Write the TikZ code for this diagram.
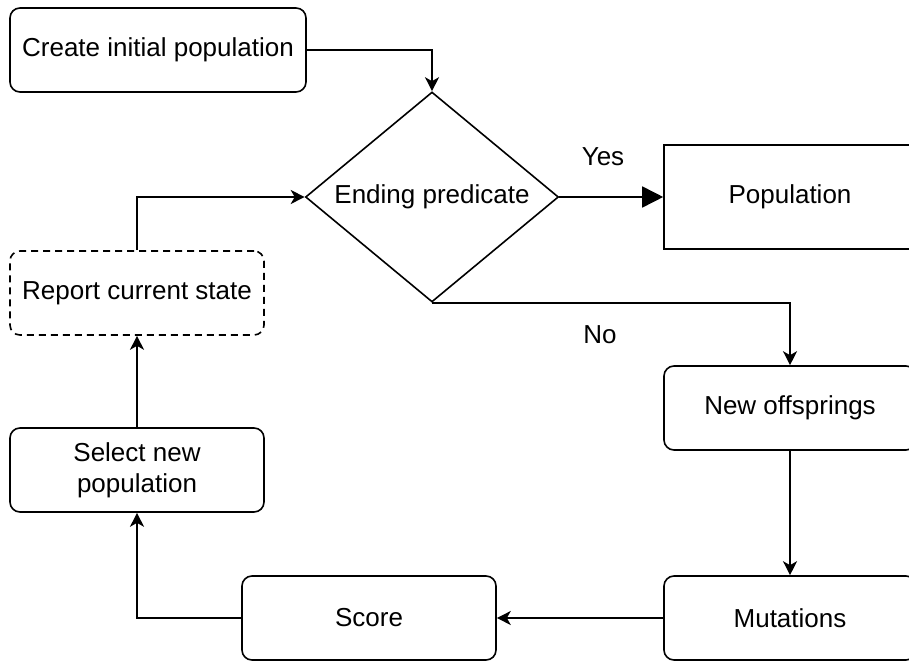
\documentclass[tikz,border=0pt]{standalone}
\usepackage{fontspec}
\setmainfont{Liberation Sans}
\usetikzlibrary{shapes.geometric,arrows.meta}

\begin{document}
\begin{tikzpicture}[x=0.5pt,y=-0.5pt,line width=0.8pt,
	font=\fontsize{13}{15.5}\selectfont,
	box/.style={draw,rounded corners=5pt,minimum width=127pt,minimum height=42pt,inner sep=0pt,align=center},
	decision/.style={draw,diamond,shape aspect=1.2,minimum width=126.5pt,minimum height=105pt,inner sep=0pt},
	flow/.style={-{Stealth[length=7pt,width=7pt,inset=2pt]}},
	bigflow/.style={-{Triangle[length=10.5pt,width=10.5pt]}}]
\useasboundingbox (0,0) rectangle (909,662);

\node[box,minimum width=148pt] (create) at (158,50) {Create initial population};
\node[decision] (ending) at (432,197) {Ending predicate};
\node[box,rounded corners=0pt,minimum width=126pt,minimum height=52pt] (population) at (790,197) {Population};
\node[box,dash pattern=on 3.5pt off 2.5pt] (report) at (137,293) {Report current state};
\node[box] (select) at (137,470) {Select new\\population};
\node[box,minimum width=126pt] (offspring) at (790,408) {New offsprings};
\node[box,minimum width=126pt] (mutation) at (790,618) {Mutations};
\node[box] (score) at (369,618) {Score};

\node (yes) at (603,157) {Yes};
\node (no) at (600,335) {No};

\draw[flow] (create.east) -| (ending.north);
\draw[bigflow] (ending.east) -- (population.west);
\draw[flow] (ending.south) -| (offspring.north);
\draw[flow] (offspring) -- (mutation);
\draw[flow] (mutation) -- (score);
\draw[flow] (score.west) -| (select.south);
\draw[flow] (select) -- (report);
\draw[flow] (report.north) |- (ending.west);

\end{tikzpicture}
\end{document}
